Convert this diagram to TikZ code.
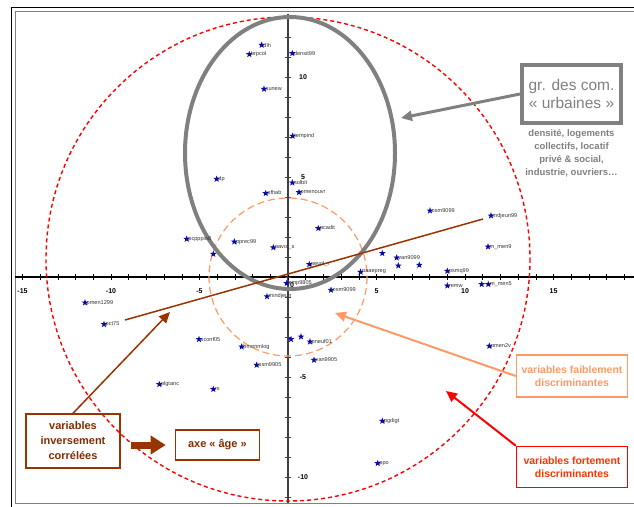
\documentclass[tikz,border=0pt]{standalone}
\usepackage{fontspec}
\setmainfont{Liberation Sans}
\setsansfont{Liberation Sans}
\usetikzlibrary{shapes.geometric,arrows.meta,positioning}
\definecolor{brun}{RGB}{153,51,0}
\definecolor{saumon}{RGB}{255,153,102}
\definecolor{rougetxt}{RGB}{255,51,0}
\definecolor{gris}{RGB}{128,128,128}
\definecolor{etoile}{RGB}{10,10,165}

\begin{document}
\begin{tikzpicture}[x=1pt, y=-1pt,
    font=\sffamily,
    >={Triangle[length=11pt,width=10pt]},
    pt/.style={star, star points=5, star point ratio=2.4, fill=etoile, inner sep=0pt, minimum size=7pt},
    lbl/.style={anchor=west, inner sep=0pt, text=black!80, font=\sffamily\fontsize{5.6}{6.5}\selectfont},
    tick/.style={line width=0.6pt},
    num/.style={inner sep=0pt, font=\sffamily\bfseries\fontsize{7}{8}\selectfont},
    base/.style={draw, align=center, line width=1.4pt, inner sep=2pt, font=\sffamily\bfseries\fontsize{10.5}{13}\selectfont},
    brbox/.style={base, brun, text=brun!85!black},
    urbbox/.style={draw=gris, line width=4pt, text=gris, align=center, minimum width=99pt, minimum height=58pt, font=\sffamily\fontsize{15.5}{18.5}\selectfont},
    note/.style={text=gris, align=center, inner sep=0pt, font=\sffamily\bfseries\fontsize{9.5}{13}\selectfont}]

\useasboundingbox (0,0) rectangle (634,506);

% cadre
\draw[line width=1pt] (11,520) -- (11,7.5) -- (650,7.5);
\draw[gris, line width=1pt] (650,11.5) -- (15.5,11.5) -- (15.5,503.5) -- (650,503.5);

% axes
\coordinate (xa) at (15,277);
\coordinate (xb) at (634,277);
\coordinate (ya) at (288,14);
\coordinate (yb) at (288,503);
\draw[line width=1.2pt] (xa) -- (xb);
\draw[black!75, line width=1.4pt] (ya) -- (yb);
\foreach \i in {-15,...,19} \draw[tick] ({288+17.7*\i},274) -- ++(0,6);
\foreach \j in {-11,...,13} \draw[tick, black!75] (285,{277.5-20*\j}) -- ++(6,0);
\foreach \v in {-15,-10,-5,5,10,15} \node[num] (hx\v) at ({288+17.7*\v},291) {\v};
\foreach \v in {10,5,-5,-10} \node[num] (vy\v) at (303,{277.5-20*\v}) {\v};
\node[num] (o) at (292,285) {0};

% cercles
\draw[red, line width=1.4pt, dash pattern=on 4pt off 3pt] (288,259) circle [radius=242];
\draw[saumon, line width=1.2pt, dash pattern=on 7pt off 4pt] (288,277) circle [radius=79];
\draw[gris, line width=4pt] (290,153) ellipse [x radius=105, y radius=136];

% axe age
\coordinate (ageA) at (125,320);
\coordinate (ageB) at (483,219);
\draw[brun, line width=1.5pt] (ageA) -- (ageB);

% variables
\foreach \x/\y/\t [count=\k] in {
    261.7/45/dlh, 249.3/54.3/brpcol, 292.3/53.3/densit99, 264/89/sunew,
    292.7/136/tempind, 216.7/179/dp, 292.3/182.7/solbit, 265.7/193.3/pfhab,
    299/192.3/pmenouvr, 318.3/228.3/pcadit, 186.7/239/pcpppio8, 234.3/241.7/pprec99,
    273.3/247.5/pavol\_s, 213.3/254/{}, 309.3/264.3/pevol\_r, 430/210.7/osm9099,
    491/215.7/mdjeun99, 382.3/253.3/{}, 396.7/257.7/van9099, 398.3/265.7/{},
    419.3/265/{}, 488/246.7/m\_men9, 360.5/272/paaepreg, 447.3/271/psmq99,
    447.3/285.7/remw, 481.7/284.3/{}, 488.3/284.3/m\_men5, 331/290/osm9099,
    286.7/283.3/pmp9805, 267/296.5/mindjeun, 85/302.7/pmen1299, 104/324.3/pct75,
    159.3/384.3/plgtanc, 199/339.3/sconf05, 241.7/346.7/bmenmlog, 256.7/365/osm9905,
    213.3/389.2/rs, 291/339.3/{}, 301/336.7/{}, 310/341.7/pneuf01,
    314/360/van9905, 489.3/346/pmen2v, 382.3/421/pgdigt, 377.7/463.3/ppo}
{
  \node[pt] (s\k) at (\x,\y) {};
  \node[lbl] (l\k) at ([xshift=1.5pt]s\k.center) {\t};
}

% commentaires
\node[urbbox] (urb) at (571.5,94) {gr. des com.\\« urbaines »};
\node[note] (urbnote) [below=4pt of urb] {densité, logements\\collectifs, locatif\\privé \& social,\\industrie, ouvriers…};
\node[base, saumon, text=saumon, minimum width=111pt, minimum height=42pt] (faib) at (572,376) {variables faiblement\\discriminantes};
\node[base, red, text=rougetxt, minimum width=111pt, minimum height=41pt] (fort) [below=48pt of faib] {variables fortement\\discriminantes};
\node[brbox, minimum width=94pt, minimum height=54pt, font=\sffamily\bfseries\fontsize{11}{15}\selectfont] (inv) at (73,441) {variables\\inversement\\corrélées};
\node[brbox, minimum width=84pt, minimum height=30pt, font=\sffamily\bfseries\fontsize{11}{13}\selectfont] (age) [right=54pt of inv.east, anchor=west, yshift=-4pt] {axe « âge »};

\coordinate (urbtip) at (401,118);
\coordinate (faibtip) at (335,313);
\coordinate (forttip) at (446,391);
\coordinate (invtip) at (170,312);
\draw[->, gris, line width=3pt] (urb.west) -- (urbtip);
\draw[->, saumon, line width=2pt] (faib.west) -- (faibtip);
\draw[->, red, line width=2pt] (fort.north west) -- (forttip);
\draw[->, brun, line width=1.5pt] (inv.north) -- (invtip);
\draw[-{Triangle[length=15pt,width=18pt]}, brun, line width=7pt, shorten <=10pt, shorten >=9pt] (inv.east |- age.west) -- (age.west);

\end{tikzpicture}
\end{document}
